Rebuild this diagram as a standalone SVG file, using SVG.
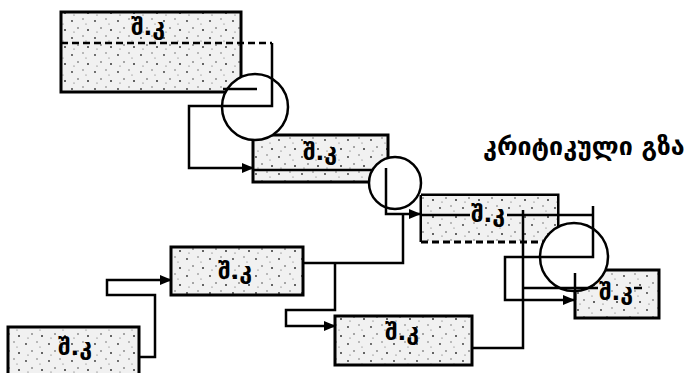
<svg xmlns="http://www.w3.org/2000/svg" width="695" height="373" viewBox="0 0 695 373">
<defs>
<pattern id="dots" width="23" height="17" patternUnits="userSpaceOnUse">
<rect width="23" height="17" fill="#f1f1f1"/>
<circle cx="3" cy="4" r="0.9" fill="#333"/>
<circle cx="14" cy="2" r="0.7" fill="#555"/>
<circle cx="9" cy="11" r="0.8" fill="#444"/>
<circle cx="19" cy="13" r="1" fill="#333"/>
<circle cx="17" cy="7" r="0.6" fill="#666"/>
<circle cx="5" cy="15" r="0.6" fill="#555"/>
</pattern>
<marker id="arr" markerWidth="12" markerHeight="10" refX="11" refY="5" orient="auto" markerUnits="userSpaceOnUse">
<path d="M0,0 L12,5 L0,10 Z" fill="#000"/>
</marker>
</defs>
<style>
.box{fill:url(#dots);stroke:#000;stroke-width:3}
.ev{fill:#fff;stroke:#000;stroke-width:2.5}
.ln{fill:none;stroke:#000;stroke-width:2.5}
.dash{fill:none;stroke:#000;stroke-width:2.5;stroke-dasharray:7 4}
.lbl{font-family:"DejaVu Sans",sans-serif;font-weight:bold;font-size:23px;text-anchor:middle;fill:#000}
.cp{font-family:"DejaVu Sans",sans-serif;font-weight:bold;font-size:25px;fill:#000}
</style>
<rect width="695" height="373" fill="#fff"/>

<g id="box1"><rect class="box" x="61" y="12" width="180" height="80"/><text class="lbl" x="148" y="35">შ.კ</text></g>
<g id="box2"><rect class="box" x="253" y="135" width="135" height="47"/><text class="lbl" x="320" y="160">შ.კ</text></g>
<g id="box3"><path d="M421,195 H558 V242" class="ln" style="stroke-width:3"/><path d="M421,195 V242" class="ln" style="stroke-width:3"/><rect x="422" y="196" width="135" height="45" fill="url(#dots)"/><path d="M421,242 H558" class="dash" style="stroke-width:3"/><text class="lbl" x="488" y="222">შ.კ</text></g>
<g id="box4"><rect class="box" x="171" y="247" width="132" height="48"/><text class="lbl" x="235" y="279">შ.კ</text></g>
<g id="box5"><rect class="box" x="8" y="327" width="131" height="52"/><text class="lbl" x="75" y="355">შ.კ</text></g>
<g id="box6"><rect class="box" x="575" y="270" width="84" height="48"/><text class="lbl" x="616" y="300">შ.კ</text></g>
<g id="box7"><rect class="box" x="335" y="316" width="137" height="49"/><text class="lbl" x="402" y="340">შ.კ</text></g>

<g id="event1"><circle class="ev" cx="255" cy="107" r="33"/></g>
<g id="event2"><circle class="ev" cx="395" cy="183" r="26"/></g>
<g id="event3"><circle class="ev" cx="574" cy="257" r="34"/></g>

<g id="connectors">
<path class="dash" d="M61,43 H272"/>
<path class="ln" d="M272,43 V106 H189 V168 H253" marker-end="url(#arr)"/>
<path class="ln" d="M223,89 H257"/>
<path class="ln" d="M253,170 H372"/>
<path class="ln" d="M386,168 V214 H420" marker-end="url(#arr)"/>
<path class="ln" d="M303,263 H403 V214"/>
<path class="ln" d="M335,263 V310 H286 V326 H335" marker-end="url(#arr)"/>
<path class="ln" d="M139,357 H155 V295 H107 V280 H171" marker-end="url(#arr)"/>
<path class="ln" d="M420,215 H470 M507,215 H593"/>
<path class="ln" d="M593,206 V257 H505 V300 H574" marker-end="url(#arr)"/>
<path class="ln" d="M472,348 H523 V210"/>
<path class="ln" d="M523,288 H598 M634,288 H642"/>
<path class="ln" d="M575,273 V300"/>
</g>

<text class="cp" x="483" y="155">კრიტიკული გზა</text>
</svg>
